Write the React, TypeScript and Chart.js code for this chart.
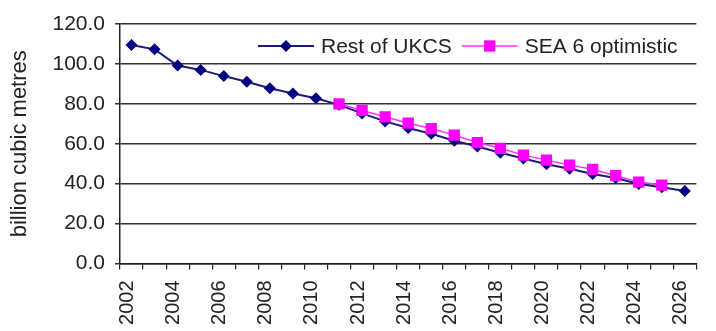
import React, { useEffect, useRef } from "react";
import { Chart, registerables } from "chart.js";

Chart.register(...registerables);

const years = [
  "2002", "2003", "2004", "2005", "2006", "2007", "2008", "2009", "2010", "2011", "2012", "2013",
  "2014", "2015", "2016", "2017", "2018", "2019", "2020", "2021", "2022", "2023", "2024", "2025", "2026",
];

const restOfUKCS = [
  109.5, 107.3, 99.2, 97.0, 93.9, 91.1, 87.8, 85.2, 82.8, 79.5, 75.2, 71.2,
  67.9, 65.0, 61.5, 58.6, 55.5, 52.6, 49.7, 47.5, 44.8, 42.8, 39.8, 38.2, 36.3,
];

const sea6Optimistic = [
  null, null, null, null, null, null, null, null, null, 80.0, 76.7, 73.5,
  70.3, 67.6, 64.3, 60.6, 57.7, 54.3, 51.8, 49.3, 47.2, 44.0, 40.8, 39.3, null,
];

const yTicks = [0, 20, 40, 60, 80, 100, 120];

const FONT = "'Liberation Sans', Arial, sans-serif";

const legendPlugin = {
  id: "inlineLegend",
  afterDraw(chart: any) {
    const ctx = chart.ctx;
    const y = 46;
    let x = 258;
    ctx.save();
    ctx.font = `21px ${FONT}`;
    ctx.textBaseline = "middle";
    ctx.textAlign = "left";
    chart.data.datasets.forEach((ds: any) => {
      const lineLen = 56;
      ctx.strokeStyle = ds.borderColor;
      ctx.lineWidth = ds.borderWidth;
      ctx.beginPath();
      ctx.moveTo(x, y);
      ctx.lineTo(x + lineLen, y);
      ctx.stroke();
      const cx = x + lineLen / 2;
      ctx.fillStyle = ds.pointBackgroundColor;
      ctx.beginPath();
      if (ds.pointStyle === "rectRot") {
        const r = ds.pointRadius;
        ctx.moveTo(cx, y - r);
        ctx.lineTo(cx + r, y);
        ctx.lineTo(cx, y + r);
        ctx.lineTo(cx - r, y);
        ctx.closePath();
      } else {
        const s = ds.pointRadius * Math.SQRT1_2;
        ctx.rect(cx - s, y - s, 2 * s, 2 * s);
      }
      ctx.fill();
      ctx.fillStyle = "#222";
      const tx = x + lineLen + 7;
      ctx.fillText(ds.label, tx, y + 1);
      x = tx + ctx.measureText(ds.label).width + 10;
    });
    ctx.restore();
  },
};

export default function App() {
  const ref = useRef<HTMLCanvasElement | null>(null);

  useEffect(() => {
    if (!ref.current) return;
    const chart = new Chart(ref.current, {
      type: "line",
      data: {
        labels: years,
        datasets: [
          {
            label: "Rest of UKCS",
            data: restOfUKCS,
            borderColor: "#1b1b78",
            backgroundColor: "#000080",
            pointBackgroundColor: "#000080",
            pointBorderColor: "#000080",
            pointStyle: "rectRot",
            pointRadius: 6,
            pointBorderWidth: 0,
            borderWidth: 2,
            tension: 0,
            order: 1,
          },
          {
            label: "SEA 6 optimistic",
            data: sea6Optimistic,
            borderColor: "#ff33ff",
            backgroundColor: "#ff00ff",
            pointBackgroundColor: "#ff00ff",
            pointBorderColor: "#ff00ff",
            pointStyle: "rect",
            pointRadius: 8,
            pointBorderWidth: 0,
            borderWidth: 1.5,
            tension: 0,
            order: 0,
          },
        ],
      },
      options: {
        animation: false,
        responsive: false,
        devicePixelRatio: 1,
        layout: { padding: { top: 24, right: 1, left: 0, bottom: 0 } },
        plugins: {
          legend: { display: false },
          tooltip: { enabled: false },
        },
        elements: { line: { spanGaps: false } },
        scales: {
          x: {
            type: "category",
            offset: true,
            grid: {
              offset: true,
              drawOnChartArea: false,
              drawTicks: true,
              tickLength: 6,
              color: "#222",
              lineWidth: 1.2,
            },
            border: { display: true, color: "#222", width: 1.5 },
            ticks: {
              autoSkip: false,
              minRotation: 90,
              maxRotation: 90,
              padding: 11,
              labelOffset: -4,
              color: "#222",
              font: { family: FONT, size: 20 },
              callback: (_v: any, i: number) => (i % 2 === 0 ? years[i] : ""),
            },
            afterFit: (scale: any) => {
              scale.height = 67.5;
            },
          },
          y: {
            min: 0,
            max: 120,
            afterBuildTicks: (scale: any) => {
              scale.ticks = yTicks.map((v) => ({ value: v }));
            },
            grid: {
              color: "#333",
              lineWidth: 1.5,
              drawTicks: true,
              tickLength: 5,
            },
            border: { display: true, color: "#222", width: 1.5 },
            ticks: {
              padding: 10,
              color: "#222",
              font: { family: FONT, size: 21 },
              callback: (v: any) => Number(v).toFixed(1),
            },
            title: {
              display: true,
              text: "billion cubic metres",
              color: "#222",
              font: { family: FONT, size: 22 },
              padding: { top: 7, bottom: 0 },
            },
            afterFit: (scale: any) => {
              scale.width = 120;
            },
          },
        },
      } as any,
      plugins: [legendPlugin],
    });
    return () => chart.destroy();
  }, []);

  return (
    <div
      style={{
        position: "absolute",
        left: 0,
        top: 0,
        width: 716,
        height: 331,
        overflow: "hidden",
        background: "#fff",
      }}
    >
      <canvas ref={ref} width={720} height={331} style={{ display: "block" }} />
    </div>
  );
}
